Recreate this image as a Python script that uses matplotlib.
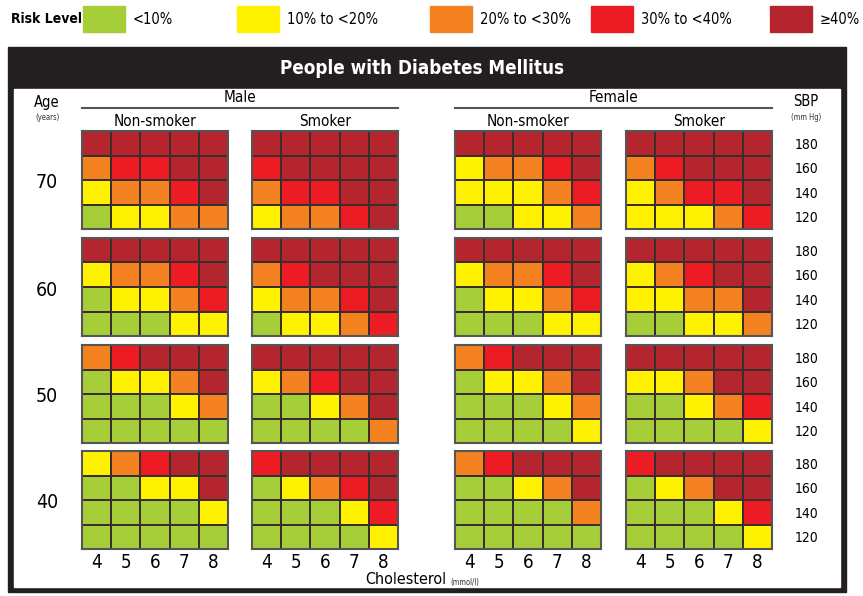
import numpy as np
import matplotlib
matplotlib.use("Agg")
import matplotlib.pyplot as plt
from matplotlib.colors import ListedColormap, BoundaryNorm
from matplotlib.patches import Rectangle

W, H = 863, 596
FONT = ["DejaVu Sans"]
plt.rcParams["font.stretch"] = "condensed"

risk_labels = ["<10%", "10% to <20%", "20% to <30%", "30% to <40%", "≥40%"]
risk_colors = ["#a6ce39", "#fff200", "#f58220", "#ed1c24", "#b5252e"]
ages = [70, 60, 50, 40]
sbp = [180, 160, 140, 120]
cholesterol = [4, 5, 6, 7, 8]
sexes = ["Male", "Female"]
smoking = ["Non-smoker", "Smoker"]

# risk level 0..4 per cell, rows = SBP 180..120, cols = cholesterol 4..8
male_nonsmoker = {
    70: [[4, 4, 4, 4, 4], [2, 3, 3, 4, 4], [1, 2, 2, 3, 4], [0, 1, 1, 2, 2]],
    60: [[4, 4, 4, 4, 4], [1, 2, 2, 3, 4], [0, 1, 1, 2, 3], [0, 0, 0, 1, 1]],
    50: [[2, 3, 4, 4, 4], [0, 1, 1, 2, 4], [0, 0, 0, 1, 2], [0, 0, 0, 0, 0]],
    40: [[1, 2, 3, 4, 4], [0, 0, 1, 1, 4], [0, 0, 0, 0, 1], [0, 0, 0, 0, 0]],
}
male_smoker = {
    70: [[4, 4, 4, 4, 4], [3, 4, 4, 4, 4], [2, 3, 3, 4, 4], [1, 2, 2, 3, 4]],
    60: [[4, 4, 4, 4, 4], [2, 3, 4, 4, 4], [1, 2, 2, 3, 4], [0, 1, 1, 2, 3]],
    50: [[4, 4, 4, 4, 4], [1, 2, 3, 4, 4], [0, 0, 1, 2, 4], [0, 0, 0, 0, 2]],
    40: [[3, 4, 4, 4, 4], [0, 1, 2, 3, 4], [0, 0, 0, 1, 3], [0, 0, 0, 0, 1]],
}
female_nonsmoker = {
    70: [[4, 4, 4, 4, 4], [1, 2, 2, 3, 4], [1, 1, 1, 2, 3], [0, 0, 1, 1, 2]],
    60: [[4, 4, 4, 4, 4], [1, 2, 2, 3, 4], [0, 1, 1, 2, 3], [0, 0, 0, 1, 1]],
    50: [[2, 3, 4, 4, 4], [0, 1, 1, 2, 4], [0, 0, 0, 1, 2], [0, 0, 0, 0, 1]],
    40: [[2, 3, 4, 4, 4], [0, 0, 1, 2, 4], [0, 0, 0, 0, 2], [0, 0, 0, 0, 0]],
}
female_smoker = {
    70: [[4, 4, 4, 4, 4], [2, 3, 4, 4, 4], [1, 2, 3, 3, 4], [1, 1, 1, 2, 3]],
    60: [[4, 4, 4, 4, 4], [1, 2, 3, 4, 4], [1, 1, 2, 2, 4], [0, 0, 1, 1, 2]],
    50: [[4, 4, 4, 4, 4], [1, 1, 2, 4, 4], [0, 0, 1, 2, 3], [0, 0, 0, 0, 1]],
    40: [[3, 4, 4, 4, 4], [0, 1, 2, 4, 4], [0, 0, 0, 1, 3], [0, 0, 0, 0, 1]],
}
panels = [male_nonsmoker, male_smoker, female_nonsmoker, female_smoker]

# layout in pixels
panel_x = [82, 252, 455, 626]
panel_w = 146
block_y = [131, 238, 345, 451]
panel_h = 98

cmap = ListedColormap(risk_colors)
norm = BoundaryNorm(np.arange(-0.5, 5.5, 1), cmap.N)


def box(x, y, w, h):
    return [x / W, 1 - (y + h) / H, w / W, h / H]


fig = plt.figure(figsize=(W / 100, H / 100), dpi=100)
bg = fig.add_axes([0, 0, 1, 1])
bg.set_xlim(0, W)
bg.set_ylim(H, 0)
bg.axis("off")

# legend
bg.text(11, 19, "Risk Level", fontsize=10, fontweight="bold", family=FONT,
        va="center", ha="left")
leg_x = [83, 237, 430, 591, 770]
for lx, col, lab in zip(leg_x, risk_colors, risk_labels):
    bg.add_patch(Rectangle((lx, 6), 42, 26, color=col))
    bg.text(lx + 50, 19, lab, fontsize=10.5, family=FONT, va="center", ha="left")

# frame
bg.add_patch(Rectangle((8, 47), 838, 545, color="#231f20"))
bg.add_patch(Rectangle((14, 89), 826, 498, color="white"))
bg.text(422, 68, "People with Diabetes Mellitus", fontsize=13.5, fontweight="bold",
        family=FONT, color="white", ha="center", va="center")

# headers
bg.text(47, 102, "Age", fontsize=10.5, family=FONT, ha="center", va="center")
bg.text(47, 117, "(years)", fontsize=5.5, family=FONT, ha="center", va="center",
        color="#333333")
bg.text(806, 102, "SBP", fontsize=10.5, family=FONT, ha="center", va="center")
bg.text(806, 117, "(mm Hg)", fontsize=5.5, family=FONT, ha="center", va="center",
        color="#333333")
for i, sex in enumerate(sexes):
    x0 = panel_x[2 * i]
    x1 = panel_x[2 * i + 1] + panel_w
    bg.text((x0 + x1) / 2, 98, sex, fontsize=11, family=FONT, ha="center",
            va="center")
    bg.plot([x0, x1], [108, 108], color="#555555", lw=1.5)
for j, px in enumerate(panel_x):
    bg.text(px + panel_w / 2, 121, smoking[j % 2], fontsize=11, family=FONT,
            ha="center", va="center")

for k, age in enumerate(ages):
    y = block_y[k]
    bg.text(47, y + panel_h / 2 + 3, str(age), fontsize=14, family=FONT,
            ha="center", va="center")
    for j, px in enumerate(panel_x):
        ax = fig.add_axes(box(px, y, panel_w, panel_h))
        grid = np.array(panels[j][age])
        ax.pcolormesh(grid, cmap=cmap, norm=norm, edgecolors="#3a2d2d",
                      linewidth=1.2)
        ax.set_xlim(0, 5)
        ax.set_ylim(4, 0)
        for s in ax.spines.values():
            s.set_color("#555555")
            s.set_linewidth(1.5)
        if k == len(ages) - 1:
            ax.set_xticks(np.arange(5) + 0.5)
            ax.set_xticklabels(cholesterol, fontsize=13.5, family=FONT)
            ax.tick_params(axis="x", length=0, pad=3)
        else:
            ax.set_xticks([])
        ax.set_yticks([])
        if j == len(panel_x) - 1:
            ax2 = ax.twinx()
            ax2.set_ylim(4, 0)
            ax2.set_yticks(np.arange(4) + 0.5)
            ax2.set_yticklabels(sbp, fontsize=10, family=FONT)
            ax2.tick_params(axis="y", length=0, pad=16)
            for s in ax2.spines.values():
                s.set_visible(False)

bg.text(446, 580, "Cholesterol", fontsize=11.5, family=FONT, ha="right", va="center")
bg.text(450, 582, "(mmol/l)", fontsize=5.5, family=FONT, ha="left", va="center",
        color="#333333")

fig.savefig("out.png", dpi=100)
